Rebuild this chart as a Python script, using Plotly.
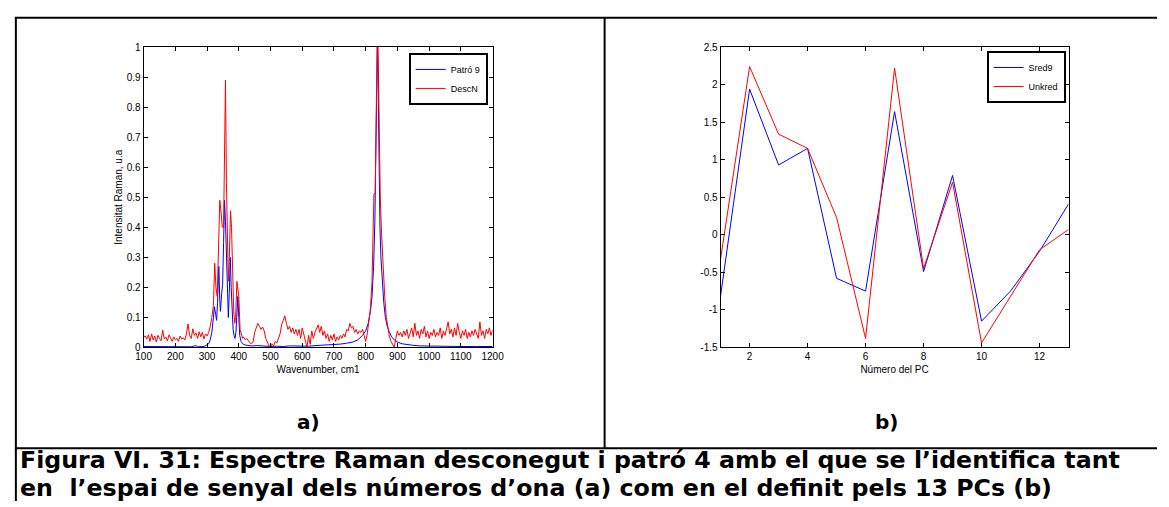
import plotly.graph_objects as go

W, H = 1169, 507


def fx(x):
    return x / W


def fy(y):
    return 1 - y / H


# ---------------- data: panel a) Raman spectra ----------------
patro_x = [100, 150, 200, 250, 265, 270, 290, 300, 305, 310, 315, 320, 323, 327, 330, 333, 337, 340,
           342, 346, 349, 352, 355, 358, 361, 364, 367, 370, 373, 376, 379, 382, 385, 388, 391, 394,
           397, 400, 403, 407, 412, 420, 440, 460, 480, 500, 520, 540, 560, 580, 600, 620, 640, 660,
           680, 700, 720, 740, 760, 775, 790, 800, 808, 815, 820, 825, 829, 832, 835, 837, 839, 842,
           845, 848, 852, 857, 862, 868, 875, 882, 890, 900, 915, 930, 950, 970, 1000, 1050, 1100,
           1150, 1200]
patro_y = [0.003, 0.002, 0.003, 0.002, 0.006, 0.002, 0.003, 0.008, 0.012, 0.025, 0.05, 0.10, 0.135,
           0.11, 0.09, 0.15, 0.27, 0.16, 0.12, 0.18, 0.21, 0.35, 0.49, 0.42, 0.32, 0.20, 0.10, 0.18,
           0.30, 0.20, 0.10, 0.06, 0.04, 0.03, 0.05, 0.10, 0.17, 0.10, 0.04, 0.02, 0.012, 0.008, 0.005,
           0.006, 0.004, 0.003, 0.004, 0.003, 0.005, 0.004, 0.005, 0.004, 0.006, 0.007, 0.007, 0.009,
           0.011, 0.014, 0.018, 0.025, 0.04, 0.055, 0.08, 0.12, 0.17, 0.27, 0.42, 0.65, 0.95, 1.0,
           0.90, 0.60, 0.40, 0.30, 0.22, 0.15, 0.10, 0.07, 0.05, 0.035, 0.025, 0.018, 0.012, 0.009,
           0.007, 0.005, 0.004, 0.004, 0.003, 0.003, 0.003]

desc_x = [100, 105, 110, 115, 120, 125, 130, 135, 140, 145, 150, 155, 160, 165, 170, 175, 180, 185,
          190, 195, 200, 205, 210, 215, 220, 225, 230, 235, 240, 245, 250, 255, 260, 265, 270, 275,
          280, 285, 290, 295, 300, 305, 310, 315, 320, 324, 328, 332, 336, 340, 344, 348, 352, 355,
          358, 361, 364, 367, 370, 374, 377, 380, 384, 387, 390, 394, 397, 400, 404, 408, 412, 415,
          420, 425, 430, 435, 440, 445, 450, 455, 460, 465, 470, 475, 480, 485, 490, 495, 500, 505,
          510, 515, 520, 525, 530, 535, 540, 545, 550, 555, 560, 565, 570, 575, 580, 585, 590, 595,
          600, 605, 610, 615, 620, 625, 630, 635, 640, 645, 650, 655, 660, 665, 670, 675, 680, 685,
          690, 695, 700, 705, 710, 715, 720, 725, 730, 735, 740, 745, 750, 755, 760, 765, 770, 775,
          780, 785, 790, 795, 800, 805, 810, 815, 820, 824, 826, 830, 833, 836, 839, 842, 846, 850,
          855, 860, 865, 870, 875, 880, 885, 890, 895, 900, 905, 910, 915, 920, 925, 930, 935, 940,
          945, 950, 955, 960, 965, 970, 975, 980, 985, 990, 995, 1000, 1005, 1010, 1015, 1020, 1025,
          1030, 1035, 1040, 1045, 1050, 1055, 1060, 1065, 1070, 1075, 1080, 1085, 1090, 1095, 1100,
          1105, 1110, 1115, 1120, 1125, 1130, 1135, 1140, 1145, 1150, 1155, 1160, 1165, 1170, 1175,
          1180, 1185, 1190, 1195, 1200]
desc_y = [0.035, 0.038, 0.028, 0.042, 0.020, 0.045, 0.025, 0.038, 0.018, 0.040, 0.030, 0.022, 0.058,
          0.028, 0.035, 0.022, 0.042, 0.030, 0.020, 0.035, 0.025, 0.030, 0.020, 0.038, 0.028, 0.032,
          0.025, 0.045, 0.078, 0.040, 0.030, 0.062, 0.040, 0.048, 0.030, 0.052, 0.035, 0.050, 0.028,
          0.045, 0.038, 0.050, 0.070, 0.100, 0.140, 0.280, 0.200, 0.170, 0.300, 0.490, 0.450, 0.400,
          0.400, 0.600, 0.890, 0.550, 0.350, 0.220, 0.300, 0.455, 0.400, 0.250, 0.120, 0.080, 0.100,
          0.220, 0.200, 0.170, 0.060, 0.040, 0.030, 0.035, 0.025, 0.030, 0.020, 0.015, 0.012, 0.018,
          0.050, 0.065, 0.080, 0.070, 0.060, 0.068, 0.055, 0.030, 0.015, 0.005, 0.002, 0.012, 0.005,
          0.020, 0.015, 0.030, 0.045, 0.075, 0.090, 0.105, 0.080, 0.060, 0.070, 0.050, 0.065, 0.045,
          0.060, 0.040, 0.060, 0.030, 0.065, 0.040, 0.020, 0.000, 0.040, 0.010, 0.055, 0.030, 0.050,
          0.060, 0.075, 0.050, 0.070, 0.040, 0.055, 0.030, 0.045, 0.020, 0.040, 0.025, 0.045, 0.020,
          0.035, 0.025, 0.040, 0.030, 0.045, 0.035, 0.060, 0.055, 0.080, 0.065, 0.070, 0.050, 0.060,
          0.045, 0.055, 0.050, 0.060, 0.040, 0.020, 0.045, 0.080, 0.130, 0.220, 0.400, 0.510, 0.515,
          0.800, 1.000, 1.000, 0.700, 0.500, 0.380, 0.250, 0.170, 0.100, 0.060, 0.035, 0.020, 0.010,
          0.000, 0.030, 0.055, 0.040, 0.050, 0.035, 0.055, 0.040, 0.060, 0.030, 0.050, 0.065, 0.035,
          0.080, 0.040, 0.055, 0.030, 0.060, 0.045, 0.070, 0.035, 0.055, 0.030, 0.050, 0.040, 0.060,
          0.035, 0.050, 0.040, 0.065, 0.030, 0.055, 0.040, 0.060, 0.085, 0.045, 0.060, 0.035, 0.065,
          0.040, 0.080, 0.050, 0.030, 0.055, 0.040, 0.060, 0.030, 0.050, 0.035, 0.055, 0.040, 0.060,
          0.045, 0.030, 0.085, 0.040, 0.055, 0.030, 0.060, 0.045, 0.065, 0.040, 0.058]

wn_ticks = [100, 200, 300, 400, 500, 600, 700, 800, 900, 1000, 1100, 1200]
int_ticks = [0, 0.1, 0.2, 0.3, 0.4, 0.5, 0.6, 0.7, 0.8, 0.9, 1]
int_labels = ["0", "0.1", "0.2", "0.3", "0.4", "0.5", "0.6", "0.7", "0.8", "0.9", "1"]

# ---------------- data: panel b) PC scores ----------------
pc_num = [1, 2, 3, 4, 5, 6, 7, 8, 9, 10, 11, 12, 13]
sred9 = [-0.81, 1.94, 0.93, 1.15, -0.58, -0.75, 1.64, -0.49, 0.79, -1.15, -0.75, -0.22, 0.41]
unkred = [-0.32, 2.24, 1.34, 1.15, 0.23, -1.38, 2.22, -0.45, 0.70, -1.44, -0.82, -0.20, 0.07]

pc_ticks = [2, 4, 6, 8, 10, 12]
score_ticks = [-1.5, -1, -0.5, 0, 0.5, 1, 1.5, 2, 2.5]
score_labels = ["-1.5", "-1", "-0.5", "0", "0.5", "1", "1.5", "2", "2.5"]

caption_1 = "Figura VI. 31: Espectre Raman desconegut i patró 4 amb el que se l’identifica tant"
caption_2 = "en \u00a0l’espai de senyal dels números d’ona (a) com en el definit pels 13 PCs (b)"

TICKFONT = dict(family="Liberation Sans Narrow, Arial Narrow, Liberation Sans, Arial", size=10, color="black")
LEGFONT = dict(family="Liberation Sans Narrow, Arial Narrow, Liberation Sans, Arial", size=9, color="black")
BLUE = "#0000FF"
RED = "#FF0000"

fig = go.Figure()
fig.add_trace(go.Scatter(x=patro_x, y=patro_y, mode="lines", name="Patró 9",
                         line=dict(color=BLUE, width=1), xaxis="x", yaxis="y", legend="legend"))
fig.add_trace(go.Scatter(x=desc_x, y=desc_y, mode="lines", name="DescN",
                         line=dict(color=RED, width=1), xaxis="x", yaxis="y", legend="legend"))
fig.add_trace(go.Scatter(x=pc_num, y=sred9, mode="lines", name="Sred9",
                         line=dict(color=BLUE, width=1), xaxis="x2", yaxis="y2", legend="legend2"))
fig.add_trace(go.Scatter(x=pc_num, y=unkred, mode="lines", name="Unkred",
                         line=dict(color=RED, width=1), xaxis="x2", yaxis="y2", legend="legend2"))

axis_common = dict(showline=True, linecolor="black", linewidth=1, mirror="ticks", ticks="inside",
                   ticklen=4, tickwidth=1, tickcolor="black", showgrid=False, zeroline=False,
                   tickfont=TICKFONT)

fig.update_layout(
    width=W, height=H,
    margin=dict(l=0, r=0, t=0, b=0),
    paper_bgcolor="white", plot_bgcolor="white",
    xaxis=dict(domain=[fx(138), fx(493)], range=[100, 1200], tickvals=wn_ticks, anchor="y",
               title=dict(text="Wavenumber, cm1", font=TICKFONT, standoff=4), **axis_common),
    yaxis=dict(domain=[fy(350), fy(43)], range=[0, 1], tickvals=int_ticks, ticktext=int_labels,
               anchor="x",
               title=dict(text="Intensitat Raman, u.a",
                          font=dict(family="Liberation Sans, Arial", size=10, color="black"),
                          standoff=2), **axis_common),
    xaxis2=dict(domain=[fx(725), fx(1079)], range=[1, 13], tickvals=pc_ticks, anchor="y2",
                title=dict(text="Número del PC", font=TICKFONT, standoff=4), **axis_common),
    yaxis2=dict(domain=[fy(350), fy(43)], range=[-1.5, 2.5], tickvals=score_ticks,
                ticktext=score_labels, anchor="x2", **axis_common),
    legend=dict(x=fx(488), y=fy(49), xanchor="right", yanchor="top", bgcolor="white",
                bordercolor="black", borderwidth=2, font=LEGFONT, tracegroupgap=0, itemwidth=30),
    legend2=dict(x=fx(1076), y=fy(47), xanchor="right", yanchor="top", bgcolor="white",
                 bordercolor="black", borderwidth=2, font=LEGFONT, tracegroupgap=0, itemwidth=30),
    showlegend=True,
)

# table borders of the document page
border = dict(color="black", width=2)
shapes = [
    dict(type="line", xref="paper", yref="paper", x0=fx(7), x1=fx(1169), y0=fy(13), y1=fy(13), line=border),
    dict(type="line", xref="paper", yref="paper", x0=fx(8), x1=fx(8), y0=fy(13), y1=fy(507), line=border),
    dict(type="line", xref="paper", yref="paper", x0=fx(607), x1=fx(607), y0=fy(13), y1=fy(453), line=border),
    dict(type="line", xref="paper", yref="paper", x0=fx(7), x1=fx(1169), y0=fy(453), y1=fy(453), line=border),
]
fig.update_layout(shapes=shapes)

LABELFONT = dict(family="DejaVu Sans", size=20, color="black")
CAPFONT = dict(family="DejaVu Sans", size=23.7, color="black")
fig.add_annotation(x=fx(306), y=fy(426), xref="paper", yref="paper", text="<b>a)</b>",
                   showarrow=False, font=LABELFONT, xanchor="center", yanchor="middle")
fig.add_annotation(x=fx(894), y=fy(426), xref="paper", yref="paper", text="<b>b)</b>",
                   showarrow=False, font=LABELFONT, xanchor="center", yanchor="middle")
fig.add_annotation(x=fx(10), y=fy(465.5), xref="paper", yref="paper", text="<b>" + caption_1 + "</b>",
                   showarrow=False, font=CAPFONT, xanchor="left", yanchor="middle")
fig.add_annotation(x=fx(10), y=fy(493.5), xref="paper", yref="paper", text="<b>" + caption_2 + "</b>",
                   showarrow=False, font=CAPFONT, xanchor="left", yanchor="middle")

fig.write_html("out.html")
